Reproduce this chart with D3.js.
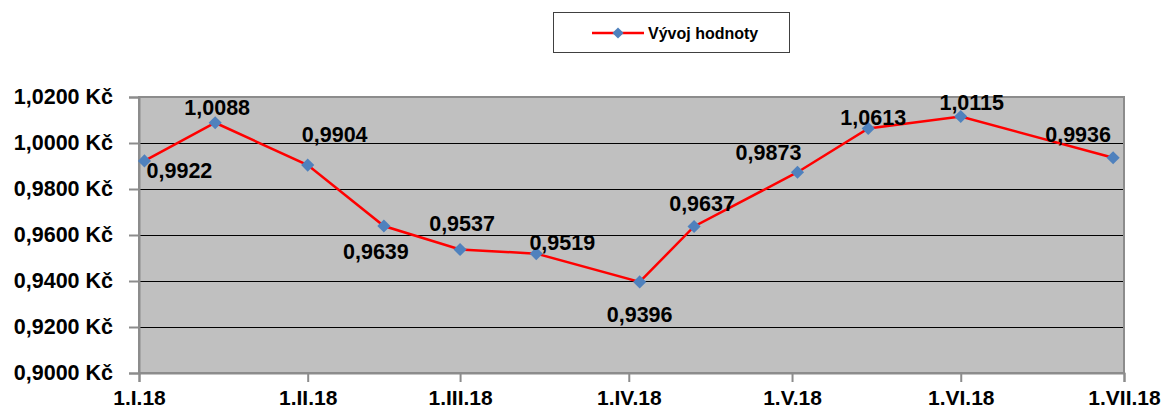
<!DOCTYPE html>
<html><head><meta charset="utf-8">
<script src="https://cdn.jsdelivr.net/npm/d3@7"></script>
<style>body{margin:0;background:#fff}svg{display:block}</style>
</head><body><svg id="c" width="1168" height="410"></svg>
<script>
// ---- data ----
const dates = ["2018-01-02","2018-01-15","2018-02-01","2018-02-15","2018-03-01","2018-03-15","2018-04-03","2018-04-13","2018-05-02","2018-05-15","2018-06-01","2018-06-29"];
const values = [0.9922,1.0088,0.9904,0.9639,0.9537,0.9519,0.9396,0.9637,0.9873,1.0063,1.0115,0.9936];
const pointLabels = ["0,9922","1,0088","0,9904","0,9639","0,9537","0,9519","0,9396","0,9637","0,9873","1,0613","1,0115","0,9936"];
const tickDates = ["2018-01-01","2018-02-01","2018-03-01","2018-04-01","2018-05-01","2018-06-01","2018-07-01"];
const tickLabels = ["1.I.18","1.II.18","1.III.18","1.IV.18","1.V.18","1.VI.18","1.VII.18"];
const yTicks = [0.90,0.92,0.94,0.96,0.98,1.00,1.02];
const seriesName = "Vývoj hodnoty";

// ---- layout ----
const L=139, R=1124, T=97, B=373;
const labelOffsets = [[35,9],[2,-15],[27,-31],[-8,25],[2,-26],[26,-11],[0,32],[8,-23],[-29,-20],[5,-11],[11,-14],[-35,-23]];
const font = "'Liberation Sans', Arial, sans-serif";

const svg = d3.select("#c");
const parse = d3.utcParse("%Y-%m-%d");
const x = d3.scaleUtc().domain([parse(tickDates[0]), parse(tickDates[tickDates.length-1])]).range([L,R]);
const y = d3.scaleLinear().domain([0.90,1.02]).range([B,T]);
const loc = d3.formatLocale({decimal:",",thousands:" ",grouping:[3],currency:[""," Kč"]});
const fy = loc.format(".4f");

// plot area
svg.append("rect").attr("x",L).attr("y",T).attr("width",R-L).attr("height",B-T).attr("fill","#c0c0c0");
// grid
svg.append("g").selectAll("line").data(yTicks.slice(1,-1)).join("line")
  .attr("x1",L).attr("x2",R).attr("y1",d=>Math.round(y(d))+0.5).attr("y2",d=>Math.round(y(d))+0.5)
  .attr("stroke","#000").attr("stroke-width",1);
// border
svg.append("rect").attr("x",L).attr("y",T).attr("width",R-L).attr("height",B-T).attr("fill","none").attr("stroke","#8c8c8c").attr("stroke-width",2);

// y axis
const yAxis = d3.axisLeft(y).tickValues(yTicks).tickSize(10).tickPadding(16).tickFormat(d=>fy(d)+" Kč");
const gy = svg.append("g").attr("transform",`translate(${L},0)`).call(yAxis);
gy.select(".domain").attr("stroke","#8c8c8c").attr("stroke-width",2);
gy.selectAll(".tick line").attr("stroke","#8c8c8c").attr("stroke-width",2);
gy.selectAll("text").attr("font-family",font).attr("font-weight","bold").attr("font-size","21.5px").attr("fill","#000");

// x axis
const tickMap = new Map(tickDates.map((d,i)=>[+parse(d),tickLabels[i]]));
const xAxis = d3.axisBottom(x).tickValues(tickDates.map(parse)).tickSize(9).tickFormat(d=>tickMap.get(+d));
const gx = svg.append("g").attr("transform",`translate(0,${B})`).call(xAxis);
gx.select(".domain").attr("stroke","#8c8c8c").attr("stroke-width",2);
gx.selectAll(".tick line").attr("stroke","#8c8c8c").attr("stroke-width",2);
gx.selectAll("text").attr("y",32).attr("dy",null).attr("font-family",font).attr("font-weight","bold").attr("font-size","21px").attr("fill","#000");

// line
const pts = dates.map((d,i)=>({d:parse(d),v:values[i],lab:pointLabels[i],off:labelOffsets[i]}));
svg.append("path").datum(pts)
  .attr("d",d3.line().x(p=>x(p.d)).y(p=>y(p.v)))
  .attr("fill","none").attr("stroke","#ff0000").attr("stroke-width",2.5);
// markers
const diamond = d3.symbol().type(d3.symbolDiamond2).size(110);
svg.append("g").selectAll("path").data(pts).join("path")
  .attr("d",diamond).attr("transform",p=>`translate(${x(p.d)},${y(p.v)})`)
  .attr("fill","#4f81bd");
// labels
svg.append("g").selectAll("text").data(pts).join("text")
  .attr("x",p=>x(p.d)+p.off[0]).attr("y",p=>y(p.v)+p.off[1]+7.7)
  .attr("text-anchor","middle").attr("font-family",font).attr("font-weight","bold").attr("font-size","21.5px")
  .text(p=>p.lab);

// legend
const lg = svg.append("g");
lg.append("rect").attr("x",553.5).attr("y",12.5).attr("width",236).attr("height",40).attr("fill","#fff").attr("stroke","#404040").attr("stroke-width",1);
lg.append("line").attr("x1",592).attr("x2",644).attr("y1",33).attr("y2",33).attr("stroke","#ff0000").attr("stroke-width",2.5);
lg.append("path").attr("d",d3.symbol().type(d3.symbolDiamond2).size(80)).attr("transform","translate(618,33)").attr("fill","#4f81bd");
lg.append("text").attr("x",648).attr("y",39).attr("font-family",font).attr("font-weight","bold").attr("font-size","16px").text(seriesName);
</script></body></html>
